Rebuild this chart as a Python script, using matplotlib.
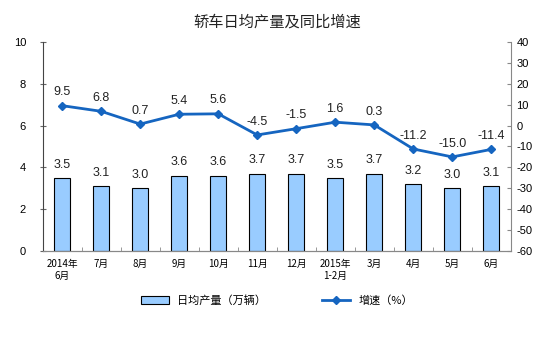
import matplotlib
matplotlib.use("Agg")
import matplotlib.pyplot as plt
import numpy as np

plt.rcParams['font.family'] = ['Noto Sans CJK SC', 'DejaVu Sans']
plt.rcParams['axes.unicode_minus'] = False

categories = ["2014年\n6月", "7月", "8月", "9月", "10月", "11月", "12月",
              "2015年\n1-2月", "3月", "4月", "5月", "6月"]
output = [3.5, 3.1, 3.0, 3.6, 3.6, 3.7, 3.7, 3.5, 3.7, 3.2, 3.0, 3.1]
growth = [9.5, 6.8, 0.7, 5.4, 5.6, -4.5, -1.5, 1.6, 0.3, -11.2, -15.0, -11.4]

num_font = ['Liberation Sans', 'DejaVu Sans']

fig = plt.figure(figsize=(5.54, 3.43), dpi=100)
ax = fig.add_axes([0.077, 0.268, 0.845, 0.61])
ax2 = ax.twinx()

x = np.arange(len(categories))
bars = ax.bar(x, output, width=0.4, color='#99CCFF', edgecolor='black', linewidth=0.8,
              label='日均产量（万辆）', zorder=2)
for xi, v in zip(x, output):
    ax.text(xi, v + 0.35, f"{v:.1f}", ha='center', va='bottom', fontsize=9,
            color='#222222', family=num_font)

ax.set_ylim(0, 10)
ax.set_yticks(np.arange(0, 11, 2))
ax.set_xlim(-0.5, len(categories) - 0.5)
ax.set_xticks(x)
ax.set_xticklabels(categories, fontsize=7)
ax.set_xticks(np.arange(-0.5, len(categories), 1), minor=True)
ax.tick_params(axis='x', which='major', length=0, pad=6)
ax.tick_params(axis='x', which='minor', length=3, direction='in', color='#888888')
ax.tick_params(axis='y', labelsize=8, length=4, color='#666666', direction='inout', pad=10)
for lbl in ax.get_yticklabels():
    lbl.set_family(num_font)

line, = ax2.plot(x, growth, color='#1565C0', linewidth=2, marker='D', markersize=4,
                 label='增速（%）', zorder=3)
for xi, v in zip(x, growth):
    ax2.text(xi, v + 3.5, f"{v:.1f}", ha='center', va='bottom', fontsize=9,
             color='#222222', family=num_font)
ax2.set_ylim(-60, 40)
ax2.set_yticks(np.arange(-60, 41, 10))
ax2.tick_params(axis='y', labelsize=8, length=3, color='#888888', direction='in', pad=4)
for lbl in ax2.get_yticklabels():
    lbl.set_family(num_font)

for a in (ax, ax2):
    a.spines['top'].set_visible(False)
    for s in ('left', 'right', 'bottom'):
        a.spines[s].set_color('#888888')
        a.spines[s].set_linewidth(0.8)
ax.spines['left'].set_color('#444444')
ax2.spines['left'].set_visible(False)
ax.spines['right'].set_visible(False)

fig.text(0.5, 0.935, '轿车日均产量及同比增速', ha='center', va='center', fontsize=11, color='#222222')

fig.legend(handles=[bars, line], labels=['日均产量（万辆）', '增速（%）'],
           loc='center', bbox_to_anchor=(0.5, 0.125), ncol=2, frameon=False,
           fontsize=8, handlelength=2.5, columnspacing=5)

fig.savefig('out.png', dpi=100)
